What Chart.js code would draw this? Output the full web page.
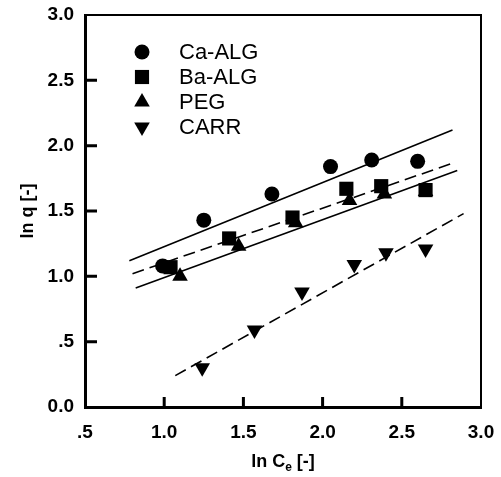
<!DOCTYPE html>
<html>
<head>
<meta charset="utf-8">
<script src="https://cdn.jsdelivr.net/npm/chart.js@4"></script>
<style>
  html, body { margin: 0; padding: 0; background: #fff; }
</style>
</head>
<body>
<canvas id="chart" width="501" height="477"></canvas>
<script>
// Valores (ln Ce, ln q)
const caAlgX = [0.99, 1.25, 1.68, 2.05, 2.31, 2.60];
const caAlgY = [1.08, 1.43, 1.63, 1.84, 1.89, 1.88];
const baAlgX = [1.04, 1.41, 1.81, 2.15, 2.37, 2.65];
const baAlgY = [1.07, 1.29, 1.45, 1.67, 1.69, 1.66];
const pegX = [1.10, 1.47, 1.83, 2.17, 2.39, 2.65];
const pegY = [1.00, 1.23, 1.41, 1.58, 1.63, 1.65];
const carrX = [1.24, 1.57, 1.87, 2.20, 2.40, 2.65];
const carrY = [0.30, 0.59, 0.88, 1.09, 1.18, 1.21];

// Retas de ajuste (extremos)
const caFitX = [0.78, 2.82];
const caFitY = [1.12, 2.12];
const baFitX = [0.80, 2.82];
const baFitY = [1.02, 1.865];
const pegFitX = [0.82, 2.85];
const pegFitY = [0.91, 1.81];
const carrFitX = [1.07, 2.89];
const carrFitY = [0.24, 1.48];

const legendNames = ["Ca-ALG", "Ba-ALG", "PEG", "CARR"];
const yTicks = [0, 0.5, 1.0, 1.5, 2.0, 2.5, 3.0];
const xTicks = [0.5, 1.0, 1.5, 2.0, 2.5, 3.0];

const FONT = "Arial, 'Liberation Sans', sans-serif";

function pts(xs, ys) {
  return xs.map((x, i) => ({ x: x, y: ys[i] }));
}

function fmt(v) {
  if (v === 0) return "0.0";
  if (v < 1) return "." + String(v).split(".")[1];
  return v.toFixed(1);
}

function markers(label, xs, ys, style, radius, rotation) {
  return {
    label: label,
    data: pts(xs, ys),
    showLine: false,
    pointStyle: style,
    pointRadius: radius,
    pointRotation: rotation || 0,
    pointBackgroundColor: "#000",
    pointBorderColor: "#000",
    pointBorderWidth: 0,
  };
}

function fitLine(xs, ys, dashed) {
  return {
    label: "",
    data: pts(xs, ys),
    showLine: true,
    pointRadius: 0,
    borderColor: "#000",
    borderWidth: 1.6,
    borderDash: dashed ? [12, 6] : [],
    fill: false,
  };
}

// legenda dentro da área do gráfico
const insideLegend = {
  id: "insideLegend",
  afterDatasetsDraw(chart) {
    const ctx = chart.ctx;
    const area = chart.chartArea;
    ctx.save();
    ctx.fillStyle = "#000";
    ctx.font = "22px " + FONT;
    ctx.textBaseline = "middle";
    let row = 0;
    chart.data.datasets.forEach((ds) => {
      if (!legendNames.includes(ds.label)) return;
      const y = area.top + 37 + row * 25;
      const x = area.left + 57;
      ctx.fillStyle = "#000";
      Chart.helpers.drawPoint(ctx, {
        pointStyle: ds.pointStyle,
        rotation: ds.pointRotation,
        radius: ds.pointRadius,
        borderWidth: 0,
      }, x, y);
      ctx.fillText(ds.label, area.left + 94, y + 1);
      row++;
    });
    ctx.restore();
  },
};

// moldura, marcas internas e título do eixo x
const frame = {
  id: "frame",
  afterDraw(chart) {
    const ctx = chart.ctx;
    const a = chart.chartArea;
    const xs = chart.scales.x;
    const ys = chart.scales.y;
    ctx.save();
    ctx.strokeStyle = "#000";
    ctx.lineWidth = 2;
    ctx.beginPath();
    ctx.moveTo(a.left, a.top);
    ctx.lineTo(a.right, a.top);
    ctx.lineTo(a.right, a.bottom);
    ctx.stroke();

    ctx.lineWidth = 3;
    ctx.beginPath();
    yTicks.slice(1, -1).forEach((v) => {
      const py = ys.getPixelForValue(v);
      ctx.moveTo(a.left, py);
      ctx.lineTo(a.left + 12, py);
    });
    xTicks.slice(1, -1).forEach((v) => {
      const px = xs.getPixelForValue(v);
      ctx.moveTo(px, a.bottom);
      ctx.lineTo(px, a.bottom - 10);
    });
    ctx.stroke();

    // ln Ce [-] com subscrito
    ctx.fillStyle = "#000";
    ctx.textBaseline = "alphabetic";
    const big = "bold 18px " + FONT;
    const small = "bold 12px " + FONT;
    ctx.font = big;
    const p1 = "ln C";
    const p3 = " [-]";
    const w1 = ctx.measureText(p1).width;
    const w3 = ctx.measureText(p3).width;
    ctx.font = small;
    const w2 = ctx.measureText("e").width;
    const total = w1 + w2 + w3;
    let x = (a.left + a.right) / 2 - total / 2;
    const base = 467;
    ctx.font = big;
    ctx.fillText(p1, x, base);
    x += w1;
    ctx.font = small;
    ctx.fillText("e", x, base + 4);
    x += w2;
    ctx.font = big;
    ctx.fillText(p3, x, base);
    ctx.restore();
  },
};

const ctx = document.getElementById("chart").getContext("2d");
const chart = new Chart(ctx, {
  type: "scatter",
  data: {
    datasets: [
      markers(legendNames[0], caAlgX, caAlgY, "circle", 7.5),
      markers(legendNames[1], baAlgX, baAlgY, "rect", 10),
      markers(legendNames[2], pegX, pegY, "triangle", 9),
      markers(legendNames[3], carrX, carrY, "triangle", 9, 180),
      fitLine(caFitX, caFitY, false),
      fitLine(baFitX, baFitY, true),
      fitLine(pegFitX, pegFitY, false),
      fitLine(carrFitX, carrFitY, true),
    ],
  },
  options: {
    responsive: false,
    animation: false,
    layout: { padding: { left: 0, top: 15, right: 20, bottom: 0 } },
    plugins: {
      legend: { display: false },
      tooltip: { enabled: false },
    },
    scales: {
      x: {
        type: "linear",
        min: 0.5,
        max: 3.0,
        afterBuildTicks: (s) => { s.ticks = xTicks.map((v) => ({ value: v })); },
        afterFit: (s) => {
          s.height = 70;
          s.paddingLeft = 0;
          s.paddingRight = 0;
        },
        ticks: {
          callback: (v) => fmt(v),
          color: "#000",
          font: { family: FONT, size: 19, weight: "bold" },
          padding: 14,
          maxRotation: 0,
        },
        grid: { display: false, drawTicks: false },
        border: { display: true, color: "#000", width: 3 },
      },
      y: {
        type: "linear",
        min: 0,
        max: 3.0,
        afterBuildTicks: (s) => { s.ticks = yTicks.map((v) => ({ value: v })); },
        afterFit: (s) => {
          s.width = 85;
          s.paddingTop = 0;
          s.paddingBottom = 0;
        },
        ticks: {
          callback: (v) => fmt(v),
          color: "#000",
          font: { family: FONT, size: 19, weight: "bold" },
          padding: 11,
        },
        grid: { display: false, drawTicks: false },
        border: { display: true, color: "#000", width: 3 },
        title: {
          display: true,
          text: "ln q [-]",
          color: "#000",
          font: { family: FONT, size: 18, weight: "bold" },
          padding: { top: 17, bottom: 0 },
        },
      },
    },
  },
  plugins: [insideLegend, frame],
});
</script>
</body>
</html>
